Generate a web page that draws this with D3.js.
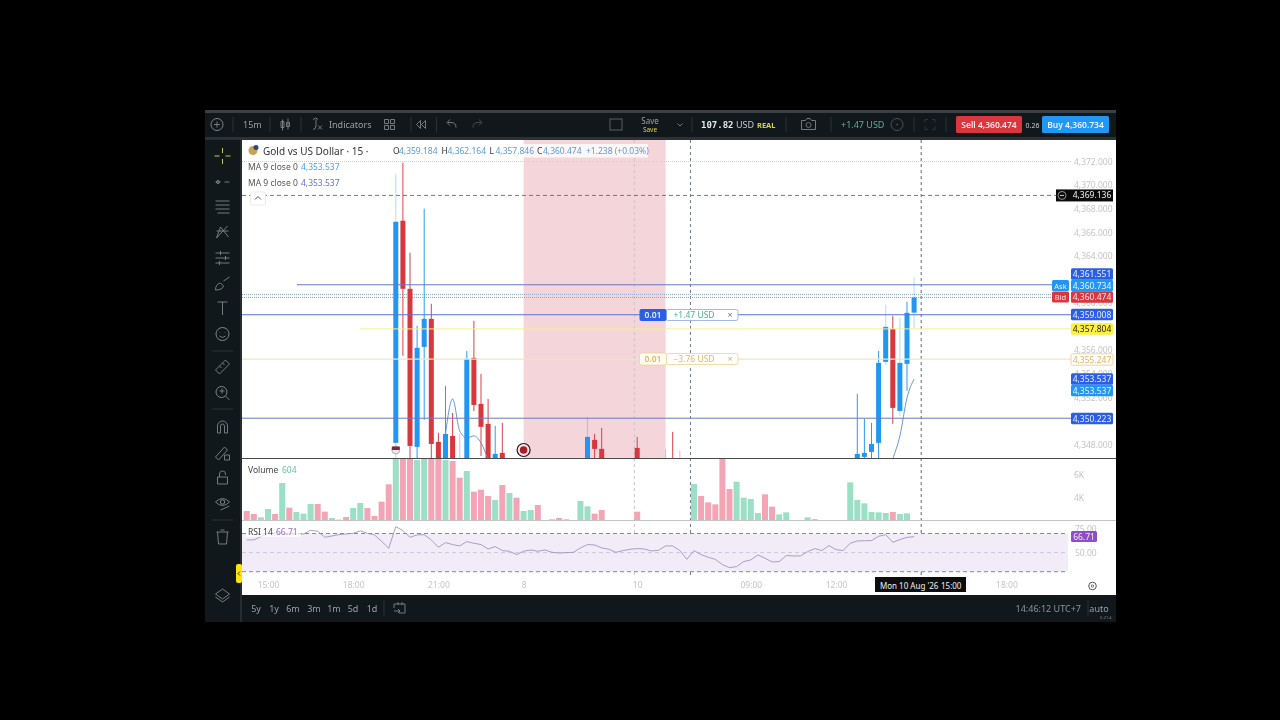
<!DOCTYPE html>
<html>
<head>
<meta charset="utf-8">
<script src="https://cdn.jsdelivr.net/npm/d3@7/dist/d3.min.js"></script>
<style>
html, body { margin: 0; padding: 0; background: #000; overflow: hidden; }
svg { display: block; font-family: "Noto Sans", sans-serif; filter: blur(0.35px); }
.axis path, .axis line { display: none; }
.axis text { fill: #c4c4c4; font-size: 8.5px; font-family: "Noto Sans", sans-serif; }
</style>
</head>
<body>
<svg id="chart" width="1280" height="720"></svg>
<script>
// bar number of every candle that is visible, 15 minutes per bar
var candle_bars = [21,22,23,24,25,26,27,28,29,30,31,32,33,34,35,36,48,49,50,55,59,60,61,86,87,88,89,90,91,92,93,94];
var opens = [4348.13,4366.99,4361.21,4347.79,4356.28,4358.66,4348.21,4346.4,4348.72,4346.6,4346.4,4355.35,4351.44,4349.74,4346.4,4347.28,4346.4,4348.38,4347.62,4347.70,4346.3,4346.5,4346.5,4346.4,4346.94,4347.36,4348.13,4355.01,4357.81,4350.84,4354.84,4359.184];
var highs = [4370.98,4371.92,4364.27,4358.07,4368.01,4359.94,4348.98,4352.97,4350.67,4348.89,4355.94,4358.49,4353.99,4351.86,4349.57,4349.83,4350.34,4348.89,4349.40,4348.64,4347.62,4349.06,4347.45,4352.29,4350.17,4349.83,4355.94,4359.85,4358.92,4358.75,4360.11,4362.164];
var lows = [4346.2,4355.52,4346.2,4346.2,4350.08,4346.2,4346,4346,4346,4346,4346,4350.84,4347.02,4346,4346,4346,4346,4346,4346,4346,4346,4346,4346,4346,4346,4346,4346,4354.75,4349.74,4350.42,4352.54,4357.846];
var closes = [4366.90,4361.21,4347.87,4356.20,4358.66,4348.04,4346.4,4348.89,4346.4,4346.3,4355.26,4351.35,4349.49,4346.4,4347.19,4346.4,4348.64,4347.62,4346.4,4346.4,4346.5,4346.3,4346.3,4347.19,4347.28,4348.04,4354.92,4357.98,4351.10,4354.92,4359.17,4360.474];
var pale_wicks = [21,30,48,59,61,90,92,94];

var ma_left_bars = [28,29,30,31,32,33,34,35];
var ma_left = [4348.89,4351.86,4349.14,4348.55,4348.72,4348.13,4346.77,4345.5];
var ma_right_bars = [90,91,92,93,94];
var ma_right = [4345.0,4346.77,4348.72,4351.95,4353.537];

var volumes = [
  794,529,235,970,529,3263,1088,706,559,1411,
  1411,735,176,30,265,1058,1499,1058,353,1617,
  3146,5500,7000,7000,5292,5380,7000,7000,5292,5204,
  3734,4322,2499,2675,2117,1764,3087,2381,1970,794,
  882,1323,0,60,176,60,0,1676,1205,559,
  882,0,0,0,0,735,0,0,0,0,
  0,0,0,3175,2117,1558,1382,5439,2734,3381,
  1970,1852,617,2264,1176,500,676,0,0,235,
  88,0,0,0,0,3322,1764,1470,706,676,
  617,706,529,588
];
var volume_up = [
  0,0,1,1,0,1,0,1,1,1,
  0,0,1,0,0,1,1,0,0,0,
  0,1,0,0,1,1,0,0,1,0,
  0,1,0,0,0,1,0,1,0,1,
  1,0,0,0,0,0,0,1,1,0,
  0,0,0,0,0,0,0,0,0,0,
  0,0,0,1,0,0,0,0,0,1,
  1,1,1,0,0,1,1,0,0,1,
  1,0,0,0,0,1,1,1,1,1,
  1,0,1,1
];
var rsi = [
  63.3,63.3,66.7,70.2,70.9,70.2,69.5,69.5,69.5,73.4,
  72.3,66.0,67.4,68.8,69.5,70.2,72.7,70.2,68.5,61.9,
  54.5,77.2,73.0,66.0,68.5,68.8,63.3,55.6,60.5,58.4,
  57.0,61.5,59.8,58.4,53.8,56.3,52.1,51.4,47.9,51.4,
  52.8,51.4,52.8,50.3,49.6,50.0,50.3,54.9,58.4,58.0,
  54.9,53.5,50.3,52.1,53.5,54.2,53.8,51.7,52.4,57.0,
  57.0,52.1,43.0,52.1,47.9,45.1,43.0,37.4,34.3,35.3,
  40.6,42.3,47.6,44.1,40.2,40.6,46.9,46.5,46.5,51.0,
  54.2,52.1,57.3,53.1,52.1,59.8,62.2,62.4,62.6,67.1,
  68.8,60.8,63.6,66.0,66.71
];

var time_bars = [3,15,27,39,55,71,83,107];
var time_labels = ["15:00","18:00","21:00","8","10","09:00","12:00","18:00"];
var price_ticks = [4348,4352,4354,4356,4358,4360,4364,4366,4368,4370,4372];
var volume_ticks = [4000,6000];
var rsi_ticks = [50,75];
var range_buttons = ["5y","1y","6m","3m","1m","5d","1d"];

var ask_price = 4360.734, bid_price = 4360.474, last_buy = 4361.551;
var profit_price = 4359.008, target_price = 4357.804, loss_price = 4355.247;
var low_line_price = 4350.223, drawn_price = 4369.136, ma_value = 4353.537;

var BLUE = "#2196f3", ROYAL = "#2b5fe3", RED = "#d9363e";
var PANEL = "#11181b", LINE_BLUE = "#6a77c9";

var svg = d3.select("#chart");
var x = d3.scaleLinear().domain([0, 107]).range([246.7, 1006.4]);
var y = d3.scaleLinear().domain([4348, 4372]).range([444.4, 161.7]);
var y_vol = d3.scaleLinear().domain([0, 6000]).range([520, 452]);
// the printed volume scale does not start at the pane floor
var y_vol_axis = d3.scaleLinear().domain([4000, 6000]).range([497.7, 475]);
var y_rsi = d3.scaleLinear().domain([30, 70]).range([571.7, 533.5]);
var fmt = d3.format(",.3f");

function rect(g, x0, y0, w, h, fill, stroke) {
  return g.append("rect").attr("x", x0).attr("y", y0).attr("width", w).attr("height", h)
    .attr("fill", fill).attr("stroke", stroke || "none").attr("stroke-width", stroke ? 0.8 : 0);
}

function label(g, x0, y0, str, size, color, anchor, weight) {
  return g.append("text").attr("x", x0).attr("y", y0).text(str)
    .attr("font-size", size).attr("fill", color)
    .attr("text-anchor", anchor || "start").attr("font-weight", weight || 400);
}

function hline(g, x0, x1, yy, color, dash, width) {
  g.append("line").attr("x1", x0).attr("x2", x1).attr("y1", yy).attr("y2", yy)
    .attr("stroke", color).attr("stroke-width", width || 1).attr("stroke-dasharray", dash || null);
}

function vline(g, xx, y0, y1, color, dash, width) {
  g.append("line").attr("x1", xx).attr("x2", xx).attr("y1", y0).attr("y2", y1)
    .attr("stroke", color).attr("stroke-width", width || 1).attr("stroke-dasharray", dash || null);
}

function icon(g, cx, cy, d, color) {
  g.append("path").attr("transform", "translate(" + cx + "," + cy + ")").attr("d", d)
    .attr("fill", "none").attr("stroke", color || "#7f878b").attr("stroke-width", 0.9);
}

function draw_frame() {
  rect(svg, 205, 110, 911, 512, PANEL);
  rect(svg, 205, 110, 911, 3, "#3a4043");
  rect(svg, 205, 137, 911, 3, "#2b3134");
  rect(svg, 242, 140, 874, 455, "#ffffff");
  rect(svg, 240, 140, 2, 482, "#262d31");
  svg.append("defs").append("clipPath").attr("id", "price-pane")
    .append("rect").attr("x", 242).attr("y", 140).attr("width", 826).attr("height", 318);
  svg.select("defs").append("clipPath").attr("id", "volume-pane")
    .append("rect").attr("x", 242).attr("y", 459).attr("width", 826).attr("height", 61);
}

function draw_guides() {
  rect(svg, x(39), 140, x(59) - x(39), 318, "#f3d5da");
  hline(svg, 242, 1072, 161.5, "#cfcfcf", "1,1");
  vline(svg, x(54.6), 140, 577, "#c9c3c8", "3,3");
  vline(svg, x(62.5), 140, 577, "#6d7a86", "3,3");
  vline(svg, x(95), 140, 577, "#5c6772", "3,3");
  hline(svg, 242, 1056, y(drawn_price), "#6d7a86", "4,3");
  hline(svg, 242, 1052, y(ask_price), "#7fa8d8", "1,1");
  hline(svg, 242, 1052, y(bid_price), "#d58a8f", "1,1");
}

function draw_candles() {
  var g = svg.append("g").attr("clip-path", "url(#price-pane)");
  candle_bars.forEach(function (bar, i) {
    var color = closes[i] >= opens[i] ? BLUE : RED;
    var pale = pale_wicks.indexOf(bar) >= 0;
    vline(g, x(bar), y(highs[i]), y(lows[i]), color, null, pale ? 1.2 : 1);
    g.select("line:last-child").attr("stroke-opacity", pale ? 0.3 : 0.95);
    var top = y(Math.max(opens[i], closes[i]));
    var bot = y(Math.min(opens[i], closes[i]));
    rect(g, x(bar) - 2.5, top, 5, bot - top, color);
  });
  var line = d3.line().x(function (d) { return x(d[0]); }).y(function (d) { return y(d[1]); }).curve(d3.curveMonotoneX);
  g.append("path").attr("d", line(d3.zip(ma_left_bars, ma_left))).attr("fill", "none").attr("stroke", "#4f8fd0").attr("stroke-width", 0.9);
  g.append("path").attr("d", line(d3.zip(ma_right_bars, ma_right))).attr("fill", "none").attr("stroke", "#4f8fd0").attr("stroke-width", 0.9);
}

function draw_price_lines() {
  hline(svg, 297, 1052, y(last_buy), LINE_BLUE);
  hline(svg, 242, 1071, y(profit_price), "#5b74d6");
  hline(svg, 360, 1071, y(target_price), "#f5ee9a");
  hline(svg, 242, 1071, y(loss_price), "#f1e6bd", null, 1.2);
  hline(svg, 242, 1071, y(low_line_price), LINE_BLUE);
  // flag and event markers on the time line
  svg.append("circle").attr("cx", x(21)).attr("cy", 450).attr("r", 4).attr("fill", "#ece8ee").attr("stroke", "#777").attr("stroke-width", 0.5);
  rect(svg, x(21) - 4, 446.5, 8, 3.5, "#7a2a3a");
  svg.append("circle").attr("cx", x(39)).attr("cy", 450).attr("r", 6.5).attr("fill", "#f8e8ea").attr("stroke", "#2a1416").attr("stroke-width", 1.2);
  svg.append("circle").attr("cx", x(39)).attr("cy", 450).attr("r", 3.8).attr("fill", "#a81f2a");
}

function draw_price_axis() {
  var axis = d3.axisRight(y).tickValues(price_ticks).tickFormat(fmt).tickSize(0).tickPadding(0);
  svg.append("g").attr("class", "axis").attr("transform", "translate(1074,0)").call(axis);
}

function tag(yy, str, fill, color, stroke) {
  rect(svg, 1071, yy - 5.7, 42, 11.4, fill, stroke).attr("rx", 1.5);
  label(svg, 1092, yy + 3, str, 8.5, color, "middle");
}

function draw_tags() {
  rect(svg, 1056, y(drawn_price) - 6, 57, 12, "#0a0a0a");
  svg.append("circle").attr("cx", 1062).attr("cy", y(drawn_price)).attr("r", 4).attr("fill", "none").attr("stroke", "#ccc").attr("stroke-width", 0.7);
  hline(svg, 1060, 1064, y(drawn_price), "#ccc");
  label(svg, 1092, y(drawn_price) + 3, fmt(drawn_price), 8.5, "#f0f0f0", "middle");

  tag(274, fmt(last_buy), ROYAL, "#e8eeff");
  tag(285.5, fmt(ask_price), BLUE, "#e8f4ff");
  tag(297, fmt(bid_price), RED, "#fbe4e5");
  rect(svg, 1052, 280, 17, 11, BLUE).attr("rx", 1.5);
  label(svg, 1060.5, 288.5, "Ask", 7.5, "#e8f4ff", "middle");
  rect(svg, 1052, 291.5, 17, 11, RED).attr("rx", 1.5);
  label(svg, 1060.5, 300, "Bid", 7.5, "#fbe4e5", "middle");
  tag(314.5, fmt(profit_price), ROYAL, "#e8eeff");
  tag(329, fmt(target_price), "#fff03a", "#222");
  tag(359.5, fmt(loss_price), "#ffffff", "#e0b25c", "#e6c98c");
  tag(379, fmt(ma_value), ROYAL, "#e8eeff");
  tag(390.5, fmt(ma_value), BLUE, "#e8f4ff");
  tag(418.5, fmt(low_line_price), ROYAL, "#e8eeff");
}

function draw_orders() {
  rect(svg, 666, 309.5, 72, 11, "#ffffff", "#8fa6e6").attr("rx", 2);
  rect(svg, 639.5, 309, 27, 12, ROYAL).attr("rx", 2);
  label(svg, 653, 318, "0.01", 8.5, "#e8eeff", "middle", 600);
  label(svg, 694, 318, "+1.47 USD", 8.5, "#4fae8a", "middle");
  label(svg, 730, 318, "×", 9, "#777", "middle");

  rect(svg, 666, 353.5, 72, 11, "#ffffff", "#f0d48a").attr("rx", 2);
  rect(svg, 639.5, 353, 27, 12, "#fffdf6", "#f0d48a").attr("rx", 2);
  label(svg, 653, 362, "0.01", 8.5, "#e9b65c", "middle", 600);
  label(svg, 694, 362, "−3.76 USD", 8.5, "#e9b65c", "middle");
  label(svg, 730, 362, "×", 9, "#d9b060", "middle");
}

function draw_legend() {
  rect(svg, 391, 144, 257, 13.5, "#ffffff").attr("fill-opacity", 0.8);
  svg.append("circle").attr("cx", 253).attr("cy", 150.5).attr("r", 4.5).attr("fill", "#c9a25a");
  svg.append("circle").attr("cx", 256).attr("cy", 147.5).attr("r", 2.5).attr("fill", "#2d4a78");
  label(svg, 263, 154.5, "Gold vs US Dollar · 15 ·", 10, "#333");

  var ohlc = [["O", 4359.184, 393], ["H", 4362.164, 441.5], ["L", 4357.846, 489.5], ["C", 4360.474, 537]];
  ohlc.forEach(function (d) {
    label(svg, d[2], 154, d[0], 8.5, "#333");
    label(svg, d[2] + 6, 154, fmt(d[1]), 8.5, "#5a9bd8");
  });
  label(svg, 586, 154, "+1.238 (+0.03%)", 8.5, "#5a9bd8");

  label(svg, 248, 170, "MA 9 close 0", 8.5, "#555");
  label(svg, 301, 170, fmt(ma_value), 8.5, "#4aa3e8");
  label(svg, 248, 186, "MA 9 close 0", 8.5, "#555");
  label(svg, 301, 186, fmt(ma_value), 8.5, "#5f74cc");

  rect(svg, 250.5, 192, 15, 13, "#ffffff", "#e4e4e4").attr("rx", 2);
  icon(svg, 258, 198, "M-3,1.5 L0,-1.5 L3,1.5", "#444");
}

function draw_volume() {
  var g = svg.append("g").attr("clip-path", "url(#volume-pane)");
  g.selectAll("rect").data(volumes).enter().append("rect")
    .attr("x", function (d, i) { return x(i) - 3; })
    .attr("width", 6)
    .attr("y", function (d) { return y_vol(d); })
    .attr("height", function (d) { return 520 - y_vol(d); })
    .attr("fill", function (d, i) { return volume_up[i] ? "#9adfc6" : "#f3a5b6"; });

  hline(svg, 242, 1116, 458.5, "#4a4a4a");
  hline(svg, 242, 1116, 520.5, "#c4c4c4");
  label(svg, 248, 473, "Volume", 8.5, "#444");
  label(svg, 282, 473, "604", 8.5, "#63c6a4");

  var axis = d3.axisRight(y_vol_axis).tickValues(volume_ticks)
    .tickFormat(function (d) { return (d / 1000) + "K"; }).tickSize(0).tickPadding(0);
  svg.append("g").attr("class", "axis").attr("transform", "translate(1074,0)").call(axis);
}

function draw_rsi() {
  rect(svg, 242, y_rsi(70), 826, y_rsi(30) - y_rsi(70), "#f1ecf8");
  hline(svg, 242, 1068, y_rsi(70), "#6b6b78", "4,3", 0.8);
  hline(svg, 242, 1068, y_rsi(50), "#cfc6dc", "4,3");
  hline(svg, 242, 1068, y_rsi(30), "#6b6b78", "4,3", 0.8);
  var line = d3.line().x(function (d, i) { return x(i); }).y(function (d) { return y_rsi(d); });
  svg.append("path").attr("d", line(rsi)).attr("fill", "none").attr("stroke", "#a294bc").attr("stroke-width", 0.9);

  rect(svg, 246, 526, 55, 11, "#ffffff").attr("fill-opacity", 0.7);
  label(svg, 248, 534.5, "RSI 14", 8.5, "#444");
  label(svg, 276, 534.5, "66.71", 8.5, "#9a6bc0");

  var axis = d3.axisRight(y_rsi).tickValues(rsi_ticks).tickFormat(d3.format(".2f")).tickSize(0).tickPadding(0);
  svg.append("g").attr("class", "axis").attr("transform", "translate(1075,0)").call(axis);
  rect(svg, 1071, 531, 26, 11, "#8e4ec6").attr("rx", 1.5);
  label(svg, 1084, 539.5, "66.71", 8.5, "#f3e8fb", "middle");
}

function draw_time_axis() {
  var axis = d3.axisBottom(x).tickValues(time_bars)
    .tickFormat(function (d, i) { return time_labels[i]; }).tickSize(0).tickPadding(0);
  svg.append("g").attr("class", "axis").attr("transform", "translate(0,582)").call(axis);
  rect(svg, 875, 577, 91, 15, "#0d0d0d");
  label(svg, 880, 589, "Mon 10 Aug '26", 8, "#f0f0f0");
  label(svg, 941, 589, "15:00", 8, "#f0f0f0");
  svg.append("circle").attr("cx", 1092.5).attr("cy", 586).attr("r", 3.8).attr("fill", "none").attr("stroke", "#555").attr("stroke-width", 1);
  svg.append("circle").attr("cx", 1092.5).attr("cy", 586).attr("r", 1.2).attr("fill", "none").attr("stroke", "#555").attr("stroke-width", 0.8);
}

function draw_top_bar() {
  var g = svg.append("g");
  g.append("circle").attr("cx", 217).attr("cy", 124.5).attr("r", 6).attr("fill", "none").attr("stroke", "#7f878b");
  icon(g, 217, 124.5, "M-3,0 H3 M0,-3 V3");
  [233, 270, 301, 411, 436.5].forEach(function (d) { vline(g, d, 117, 132, "#2b3236"); });
  label(g, 243, 128, "15m", 9, "#9aa1a4");
  icon(g, 285, 124.5, "M-2.5,-5 V6 M-4,-3 h3 v6 h-3 z M3,-6 V5 M1.5,-2 h3 v4 h-3 z");
  icon(g, 317, 124.5, "M-4,-5 q3,-3 5,0 M-1,-5 V1 q0,4 -3,4 M1,1 l4,4 M5,1 l-4,4");
  label(g, 329, 128, "Indicators", 9, "#9aa1a4");
  icon(g, 389.5, 124.5, "M-5,-5 h4 v4 h-4 z M1,-5 h4 v4 h-4 z M-5,1 h4 v4 h-4 z M1,1 h4 v4 h-4 z");
  icon(g, 421.5, 124.5, "M-1,-4 L-5,0 L-1,4 z M4,-4 L0,0 L4,4 z");
  icon(g, 452, 124.5, "M4,3 q0,-5 -5,-5 h-3 M-2,-5 l-3,3 l3,3");
  icon(g, 477, 124.5, "M-4,3 q0,-5 5,-5 h3 M2,-5 l3,3 l-3,3", "#4b5256");
  g.append("rect").attr("x", 610).attr("y", 119).attr("width", 12).attr("height", 11).attr("fill", "none").attr("stroke", "#5a6165");
  label(g, 650, 124, "Save", 8, "#9aa1a4", "middle");
  label(g, 650, 132, "Save", 6.5, "#d8d24a", "middle");
  icon(g, 680, 124.5, "M-2.5,-1 L0,1.5 L2.5,-1");
  vline(g, 692, 117, 132, "#2b3236");
  label(g, 701, 128, "107.82", 9, "#e8e8e8", "start", 700).style("font-family", "'DejaVu Sans Mono', monospace");
  label(g, 736, 128, "USD", 9, "#c4c8ca");
  label(g, 757, 127.5, "REAL", 7.5, "#d8d24a", "start", 700);
  vline(g, 786, 117, 132, "#2b3236");
  icon(g, 808.5, 124.5, "M-7,-4 h4 l1.5,-2 h3 l1.5,2 h4 v9 h-14 z");
  g.append("circle").attr("cx", 808.5).attr("cy", 125).attr("r", 2.5).attr("fill", "none").attr("stroke", "#7f878b").attr("stroke-width", 0.8);
  vline(g, 831, 117, 132, "#2b3236");
  label(g, 841, 128, "+1.47 USD", 9, "#58b48e");
  g.append("circle").attr("cx", 897).attr("cy", 124.5).attr("r", 6).attr("fill", "none").attr("stroke", "#4a5256");
  g.append("circle").attr("cx", 897).attr("cy", 124.5).attr("r", 0.8).attr("fill", "#5d6569");
  vline(g, 914, 117, 132, "#2b3236");
  icon(g, 930, 124.5, "M-5,-2 v-3 h3 M2,-5 h3 v3 M5,2 v3 h-3 M-2,5 h-3 v-3", "#333a3e");
  vline(g, 946, 117, 132, "#2b3236");

  rect(g, 956, 116, 66, 17, RED).attr("rx", 1.5);
  label(g, 989, 128, "Sell 4,360.474", 8.5, "#fbe4e5", "middle", 600);
  label(g, 1032.5, 127.5, "0.26", 7, "#c8cccd", "middle");
  rect(g, 1042, 116, 67, 17, BLUE).attr("rx", 1.5);
  label(g, 1075.5, 128, "Buy 4,360.734", 8.5, "#e8f4ff", "middle", 600);
}

function draw_left_bar() {
  var g = svg.append("g");
  icon(g, 222.5, 156, "M-8,0 H-3 M3,0 H8 M0,-8 V-3 M0,3 V8", "#d8e04a");
  icon(g, 222.5, 182, "M-7,0 H-2 M2,0 H7");
  g.append("circle").attr("cx", 218).attr("cy", 182).attr("r", 1.5).attr("fill", "none").attr("stroke", "#7f878b");
  icon(g, 222.5, 207, "M-7,-6 H7 M-7,-2 H7 M-7,2 H7 M-5,6 H7");
  icon(g, 222.5, 232, "M-6,6 L-2,-5 L6,5 M-6,6 L5,-6 M-6,-1 L6,-1");
  icon(g, 222.5, 258, "M-7,-5 H7 M-7,0 H7 M-7,5 H7 M-2,-7 v4 M3,-2 v4 M-3,3 v4");
  icon(g, 222.5, 284, "M-7,6 q0,-6 5,-7 l3,3 q-1,4 -8,4 M1,-3 L7,-7");
  icon(g, 222.5, 308, "M-5,-6 H5 M0,-6 V7");
  g.append("circle").attr("cx", 222.5).attr("cy", 334).attr("r", 6.5).attr("fill", "none").attr("stroke", "#7f878b");
  icon(g, 222.5, 334, "M-2.5,-2 v0.5 M2.5,-2 v0.5 M-3,2 q3,3 6,0");
  hline(g, 212, 233, 351, "#2b3236");
  icon(g, 222.5, 367, "M-7,3 L3,-7 L7,-3 L-3,7 z M-3,-1 l2,2 M0,-4 l2,2");
  g.append("circle").attr("cx", 221.5).attr("cy", 392).attr("r", 5.5).attr("fill", "none").attr("stroke", "#7f878b");
  icon(g, 222.5, 392, "M3,4 L7,8 M-3,-1 H2 M-0.5,-3.5 V1.5");
  hline(g, 212, 233, 409, "#2b3236");
  icon(g, 222.5, 427, "M-5,6 V-1 a5,5 0 0 1 10,0 V6 h-3 V-1 a2,2 0 0 0 -4,0 V6 z");
  icon(g, 222.5, 453, "M-7,4 L2,-6 L5,-3 L-4,7 z M2,2 h5 v5 h-5 z");
  icon(g, 222.5, 478, "M-5,-1 h10 v7 h-10 z M-3,-1 v-3 a3,3 0 0 1 6,0 v1");
  icon(g, 222.5, 503, "M-7,-1 q7,-7 14,0 q-7,7 -14,0 M-2,7 L7,3");
  g.append("circle").attr("cx", 222.5).attr("cy", 502).attr("r", 2.2).attr("fill", "none").attr("stroke", "#7f878b");
  hline(g, 212, 233, 520, "#2b3236");
  icon(g, 222.5, 537, "M-6,-5 H6 M-2,-7 H2 M-5,-5 L-4,7 H4 L5,-5");
  icon(g, 222.5, 595, "M0,-6 L7,-1 L0,4 L-7,-1 z M-7,2 L0,7 L7,2");
  rect(g, 236, 564, 6, 19, "#ffe600").attr("rx", 2);
  icon(g, 239, 573.5, "M1,-2 L-1,0 L1,2", "#222");
}

function draw_bottom_bar() {
  var g = svg.append("g");
  var xs = [256, 274, 293, 314, 334, 353, 372];
  range_buttons.forEach(function (d, i) { label(g, xs[i], 612, d, 9, "#9aa1a4", "middle"); });
  vline(g, 384, 600, 616, "#2b3236");
  icon(g, 400, 608, "M-6,-4 H5 V5 H-1 M-6,-4 V0 M-2,-6 V-3 M2,-6 V-3 M-6,3 H0 M-2,1 L0,3 L-2,5");
  label(g, 1081, 612, "14:46:12 UTC+7", 9, "#8d9599", "end");
  vline(g, 1088, 600, 616, "#2b3236");
  label(g, 1099, 612, "auto", 9, "#9aa1a4", "middle");
  label(g, 1106, 619, "6.21.4", 4, "#7d8589", "middle");
}

draw_frame();
draw_guides();
draw_candles();
draw_volume();
draw_rsi();
draw_time_axis();
draw_price_axis();
draw_price_lines();
draw_tags();
draw_orders();
draw_legend();
draw_top_bar();
draw_left_bar();
draw_bottom_bar();
</script>
</body>
</html>
